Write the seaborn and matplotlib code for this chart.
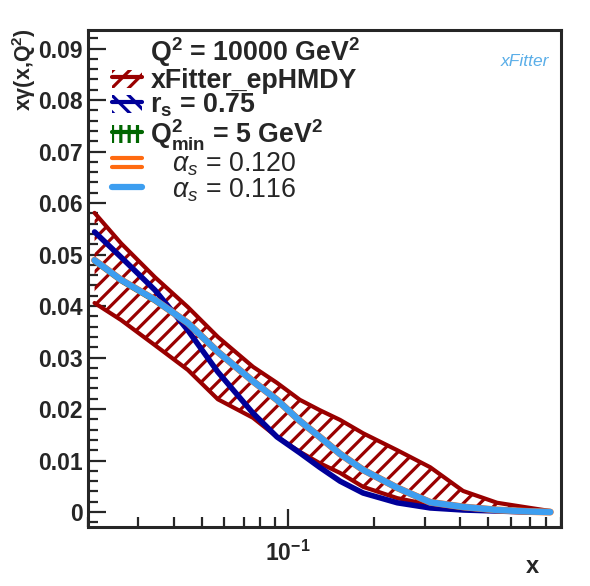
import numpy as np
import pandas as pd
import matplotlib
matplotlib.use("Agg")
import matplotlib.pyplot as plt
import seaborn as sns
from matplotlib.patches import Patch, Rectangle
from matplotlib.lines import Line2D
from matplotlib.legend_handler import HandlerBase, HandlerPatch
from matplotlib.ticker import LogLocator, NullFormatter, FixedLocator, FixedFormatter

# -------------------------------
# Daten
# -------------------------------
x = [0.0211, 0.0261, 0.0343, 0.0447, 0.0569, 0.0755, 0.0915, 0.110, 0.129,
     0.152, 0.183, 0.241, 0.314, 0.409, 0.538, 0.702, 0.825]

band_hi = [0.0581, 0.0522, 0.0456, 0.0398, 0.0340, 0.0282, 0.0251, 0.0218, 0.0198,
           0.0179, 0.0153, 0.0120, 0.0087, 0.0041, 0.0018, 0.0008, 0.0002]
band_lo = [0.0406, 0.0373, 0.0324, 0.0276, 0.0219, 0.0183, 0.0146, 0.0117, 0.0095,
           0.0076, 0.0049, 0.0027, 0.0014, 0.0008, 0.0004, 0.0001, 0.0]
rs_075 = [0.0544, 0.0495, 0.0431, 0.0353, 0.0272, 0.0192, 0.0146, 0.0115, 0.0087,
          0.0060, 0.0037, 0.0018, 0.0008, 0.0004, 0.0002, 0.0, 0.0]
q2min_5 = [0.0486, 0.0448, 0.0409, 0.0365, 0.0309, 0.0253, 0.0216, 0.0176, 0.0145,
           0.0112, 0.0081, 0.0046, 0.0019, 0.0009, 0.0004, 0.0001, 0.0]
as_0120 = [0.0489, 0.0451, 0.0412, 0.0367, 0.0311, 0.0254, 0.0218, 0.0177, 0.0146,
           0.0113, 0.0082, 0.0047, 0.0019, 0.0010, 0.0004, 0.0001, 0.0]
as_0116 = [0.0489, 0.0451, 0.0412, 0.0367, 0.0311, 0.0254, 0.0218, 0.0177, 0.0146,
           0.0113, 0.0082, 0.0047, 0.0019, 0.0010, 0.0004, 0.0001, 0.0]

df = pd.DataFrame({"x": x, "hi": band_hi, "lo": band_lo, "rs": rs_075,
                   "q2": q2min_5, "a120": as_0120, "a116": as_0116})

rot = "#990000"
blau = "#000099"
gruen = "#006600"
orange = "#ff6a10"
hellblau = "#3d9ef0"

# -------------------------------
# Stil
# -------------------------------
sns.set_style("ticks")
plt.rcParams["font.family"] = ["Liberation Sans", "DejaVu Sans"]
plt.rcParams["font.weight"] = "bold"
plt.rcParams["mathtext.fontset"] = "custom"
plt.rcParams["mathtext.rm"] = "Liberation Sans:weight=bold"
plt.rcParams["mathtext.bf"] = "Liberation Sans:weight=bold"
plt.rcParams["mathtext.it"] = "Liberation Sans:style=italic:weight=normal"
plt.rcParams["hatch.linewidth"] = 2.3

fig = plt.figure(figsize=(5.9, 5.86), dpi=100)
ax = fig.add_axes([0.149, 0.1007, 0.802, 0.848])

# Band xFitter_epHMDY
ax.fill_between(x, band_lo, band_hi, facecolor="none", edgecolor=rot, hatch="//", linewidth=0)
sns.lineplot(data=df, x="x", y="hi", color=rot, linewidth=3, ax=ax)
sns.lineplot(data=df, x="x", y="lo", color=rot, linewidth=3, ax=ax)

sns.lineplot(data=df, x="x", y="rs", color=blau, linewidth=4, ax=ax)
sns.lineplot(data=df, x="x", y="a120", color=orange, linewidth=5, ax=ax)
sns.lineplot(data=df, x="x", y="q2", color=gruen, linewidth=2.5, ax=ax)
sns.lineplot(data=df, x="x", y="a116", color=hellblau, linewidth=4.6, ax=ax)

ax.set_xscale("log")
ax.set_xlim(0.02, 0.9)
ax.set_ylim(-0.0029, 0.0936)

ax.xaxis.set_major_locator(FixedLocator([0.1]))
ax.xaxis.set_major_formatter(FixedFormatter([r"10$^{-1}$"]))
ax.xaxis.set_minor_locator(LogLocator(base=10, subs=np.arange(2, 10)))
ax.xaxis.set_minor_formatter(NullFormatter())
ax.set_yticks(np.arange(0, 0.0901, 0.01))
ax.set_yticklabels(["0", "0.01", "0.02", "0.03", "0.04", "0.05", "0.06", "0.07", "0.08", "0.09"])
ax.set_yticks(np.arange(-0.002, 0.0936, 0.002), minor=True)

ax.tick_params(axis="both", which="major", direction="in", length=13, width=1.6,
               labelsize=16.5, top=False, right=False)
ax.tick_params(axis="both", which="minor", direction="in", length=7, width=1.6,
               top=False, right=False)
ax.tick_params(axis="x", pad=10)
for s in ax.spines.values():
    s.set_linewidth(2.2)

ax.set_xlabel("")
ax.set_ylabel("")
fig.text(0.903, 0.034, "x", fontsize=17, fontweight="bold", ha="center", va="center")
fig.text(0.04, 0.952, "xγ(x,Q$^2$)", fontsize=15.5, fontweight="bold", rotation=90,
         ha="center", va="top")

# Logo
ax.text(0.924, 0.936, "xFitter", transform=ax.transAxes, color="#5aaee8", fontsize=12.5,
        fontstyle="italic", fontweight="normal", ha="center", va="center")


# -------------------------------
# Legende
# -------------------------------
class ZweiLinien(HandlerBase):
    def create_artists(self, legend, orig_handle, xdescent, ydescent, width, height,
                       fontsize, trans):
        out = []
        for f in (0.3, 0.7):
            y = -ydescent + f * height
            out.append(Line2D([-xdescent, -xdescent + width], [y, y],
                              color=orig_handle.get_color(), linewidth=3, transform=trans))
        return out


def kleines_rechteck(legend, orig_handle, xdescent, ydescent, width, height, fontsize):
    return Rectangle((-xdescent, -ydescent + 0.12 * height), width, 0.76 * height)


leer = Patch(facecolor="none", edgecolor="none")
p_rot = Patch(facecolor="none", edgecolor=rot, hatch="//", linewidth=0)
p_blau = Patch(facecolor="none", edgecolor=blau, hatch="\\\\", linewidth=0)
p_gruen = Patch(facecolor="none", edgecolor=gruen, hatch="||", linewidth=0)
h_rot = (p_rot, Line2D([], [], color=rot, linewidth=3))
h_blau = (p_blau, Line2D([], [], color=blau, linewidth=3))
h_gruen = (p_gruen, Line2D([], [], color=gruen, linewidth=3))
h_orange = Line2D([], [], color=orange)
h_hell = Line2D([], [], color=hellblau, linewidth=4.5)

labels = [r"Q$^{2}$ = 10000 GeV$^{2}$", "xFitter_epHMDY", r"r$_{\mathrm{s}}$ = 0.75",
          r"Q$^{2}_{\mathrm{min}}$ = 5 GeV$^{2}$", "   $\\mathit{α_s}$ = 0.120",
          "   $\\mathit{α_s}$ = 0.116"]
kleine = HandlerPatch(patch_func=kleines_rechteck)
leg = ax.legend([leer, h_rot, h_blau, h_gruen, h_orange, h_hell], labels,
                handler_map={h_orange: ZweiLinien(), p_rot: kleine, p_blau: kleine,
                             p_gruen: kleine},
                loc="upper left", bbox_to_anchor=(0.05, 0.99), frameon=False,
                fontsize=19.3, handlelength=1.15, handleheight=1.0, handletextpad=0.3,
                labelspacing=-0.08, borderaxespad=0, borderpad=0)
for t in leg.get_texts()[4:]:
    t.set_fontweight("normal")

fig.savefig("out.png", dpi=100)
